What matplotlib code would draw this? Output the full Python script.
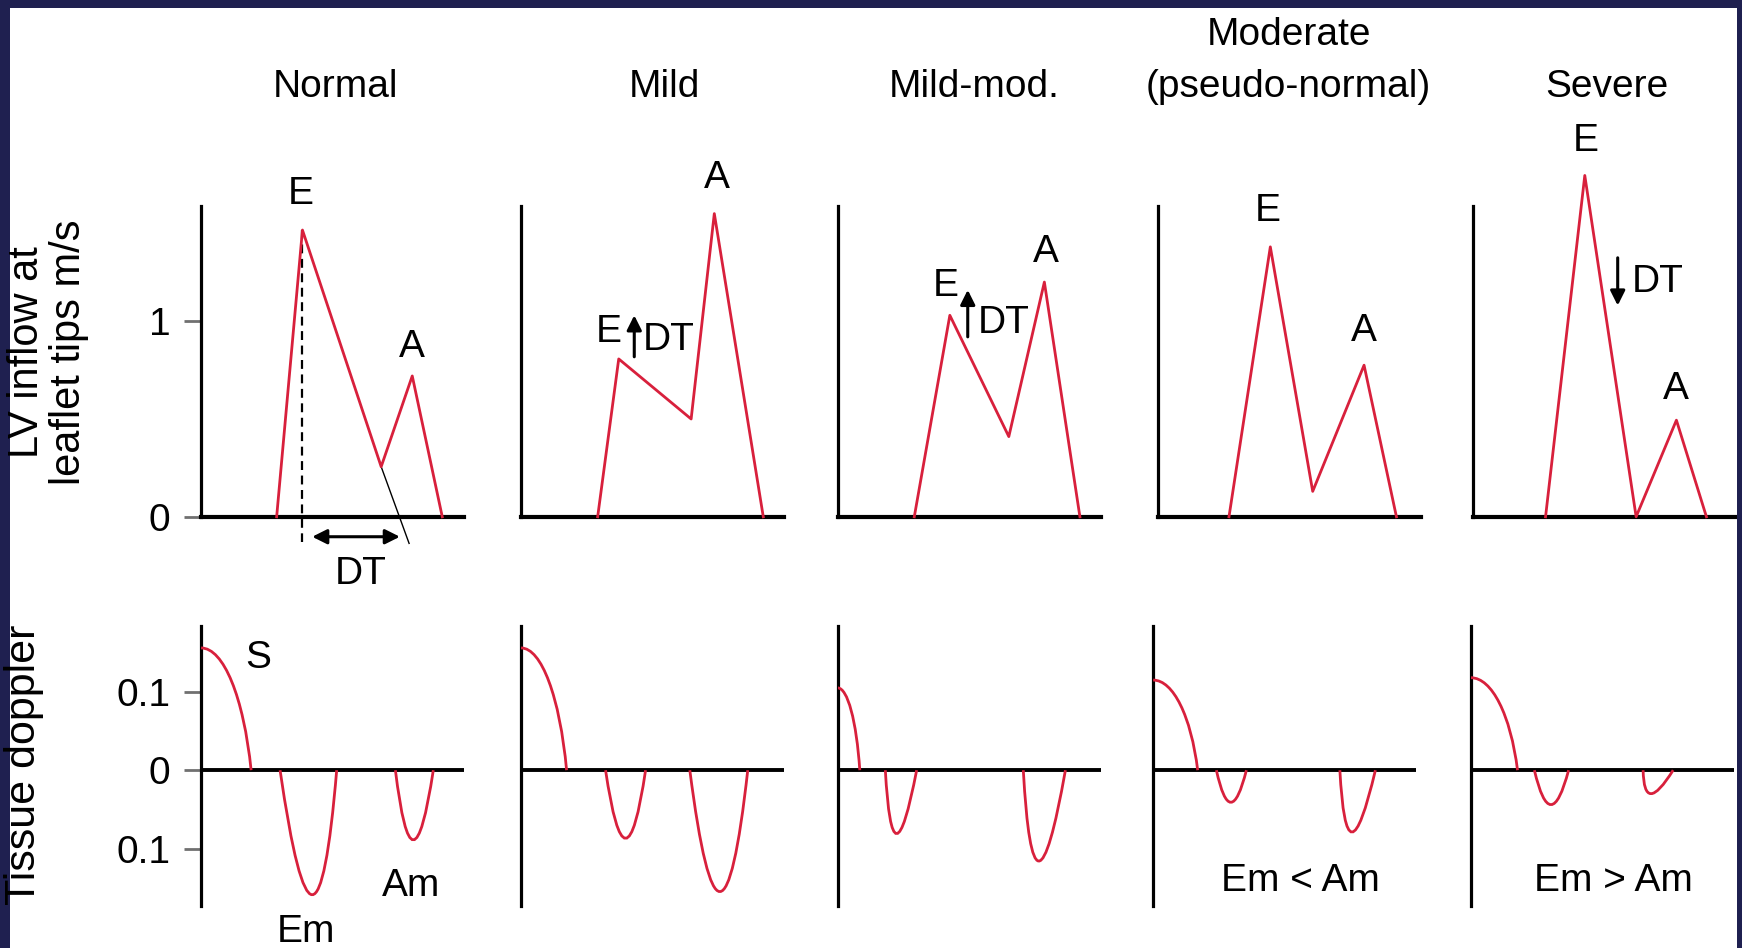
import matplotlib
matplotlib.use('Agg')
import matplotlib.pyplot as plt
from matplotlib.path import Path
from matplotlib.patches import PathPatch, Rectangle
from matplotlib.font_manager import findfont, FontProperties

# ── Data ──────────────────────────────────────────────────────────────────────
stages = ['Normal', 'Mild', 'Mild-mod.', 'Moderate\n(pseudo-normal)', 'Severe']

# LV inflow polyline: onset, E peak, E-A trough, A peak, end (time = fraction of panel)
inflow_t = [
    [0.287, 0.385, 0.684, 0.802, 0.916],
    [0.291, 0.371, 0.646, 0.734, 0.920],
    [0.291, 0.426, 0.650, 0.785, 0.920],
    [0.271, 0.428, 0.589, 0.784, 0.907],
    [0.275, 0.424, 0.619, 0.772, 0.886],
]
inflow_v = [
    [0.0, 1.466, 0.256, 0.720, 0.0],
    [0.0, 0.807, 0.500, 1.550, 0.0],
    [0.0, 1.030, 0.410, 1.200, 0.0],
    [0.0, 1.380, 0.130, 0.775, 0.0],
    [0.0, 1.745, 0.000, 0.494, 0.0],
]

# Tissue doppler: S wave (height at axis, zero crossing)
s_peak = [0.156, 0.156, 0.105, 0.115, 0.118]
s_end = [0.190, 0.173, 0.084, 0.169, 0.177]
# Em / Am lobes: (start, end, time of minimum, minimum)
em_lobe = [
    (0.300, 0.515, 0.422, -0.159),
    (0.321, 0.473, 0.397, -0.087),
    (0.181, 0.300, 0.224, -0.081),
    (0.240, 0.354, 0.295, -0.041),
    (0.241, 0.371, 0.304, -0.044),
]
am_lobe = [
    (0.738, 0.882, 0.806, -0.089),
    (0.641, 0.861, 0.755, -0.155),
    (0.705, 0.865, 0.764, -0.116),
    (0.709, 0.844, 0.755, -0.079),
    (0.654, 0.768, 0.684, -0.030),
]

inflow_ticks = [0, 1]
inflow_ticklabels = ['0', '1']
tdi_ticks = [-0.1, 0, 0.1]
tdi_ticklabels = ['0.1', '0', '0.1']

# ── Layout / style ────────────────────────────────────────────────────────────
RED = '#d8203c'
NAVY = '#1f2050'
W, H = 1568, 853          # reference layout units (pixels of the shown picture)
top_left = [181, 469, 754, 1042, 1326]
bot_left = [181, 469, 754, 1038, 1324]
PANEL_W = 237
title_x = [302, 598, 877, 1160, 1446]


def pick(fam, fallback):
    try:
        findfont(FontProperties(family=fam), fallback_to_default=False)
        return fam
    except ValueError:
        return fallback


NARROW = pick('Liberation Sans Narrow', 'Liberation Sans')
REG = pick('Liberation Sans', 'DejaVu Sans')
plt.rcParams['font.family'] = [NARROW, 'DejaVu Sans']
FS = 28


def lobe_path(x0, x1, xm, ym):
    xc = 2 * xm - 0.5 * (x0 + x1)
    return Path([(x0, 0), (xc, 2 * ym), (x1, 0)],
                [Path.MOVETO, Path.CURVE3, Path.CURVE3])


def s_path(s, xe):
    verts = [(0, s), (0.45 * xe, s), (0.85 * xe, 0.6 * s), (xe, 0)]
    return Path(verts, [Path.MOVETO, Path.CURVE4, Path.CURVE4, Path.CURVE4])


def arrow(ax, x0, y0, x1, y1, style='-|>'):
    ax.annotate('', xy=(x1, y1), xytext=(x0, y0), annotation_clip=False,
                arrowprops=dict(arrowstyle=style, lw=2.2, color='black',
                                mutation_scale=22, shrinkA=0, shrinkB=0))


fig = plt.figure(figsize=(17.42, 9.48), dpi=100)

top_axes, bot_axes = [], []
for i in range(5):
    ax = fig.add_axes([top_left[i] / W, 1 - 465 / H, PANEL_W / W, 280 / H])
    ax.set_xlim(0, 1)
    ax.set_ylim(0, 280 / 176)
    top_axes.append(ax)
    bx = fig.add_axes([bot_left[i] / W, 1 - 815 / H, PANEL_W / W, 252 / H])
    bx.set_xlim(0, 1)
    bx.set_ylim(-122 / 705, 130 / 705)
    bot_axes.append(bx)

for i, (ax, bx) in enumerate(zip(top_axes, bot_axes)):
    for a in (ax, bx):
        a.patch.set_visible(False)
        a.spines[['top', 'right']].set_visible(False)
        a.spines['left'].set_linewidth(2.3)
        a.set_xticks([])
        if i == 0:
            a.tick_params(axis='y', length=12, width=2, color='#707070',
                          pad=10, labelsize=FS)
        else:
            a.set_yticks([])
    ax.spines['bottom'].set_linewidth(3.0)
    bx.spines['bottom'].set_visible(False)
    bx.axhline(0, color='black', lw=2.8, zorder=1)
    if i == 0:
        ax.set_yticks(inflow_ticks)
        ax.set_yticklabels(inflow_ticklabels)
        bx.set_yticks(tdi_ticks)
        bx.set_yticklabels(tdi_ticklabels)

    # LV inflow
    ax.plot(inflow_t[i], inflow_v[i], color=RED, lw=2.0, clip_on=False, zorder=3)

    # tissue doppler
    for p in (s_path(s_peak[i], s_end[i]), lobe_path(*em_lobe[i]), lobe_path(*am_lobe[i])):
        bx.add_patch(PathPatch(p, fill=False, edgecolor=RED, lw=2.0, zorder=3))

    fig.text(title_x[i] / W, 1 - 87 / H, stages[i], ha='center', va='baseline',
             fontsize=FS, multialignment='center', linespacing=1.55)

txt = dict(fontsize=FS, ha='center', va='center')

# Normal: E, A, DT construction
a0 = top_axes[0]
a0.text(0.377, 1.648, 'E', **txt)
a0.text(0.802, 0.87, 'A', **txt)
a0.text(0.608, -0.295, 'DT', clip_on=False, **txt)
a0.plot([inflow_t[0][1]] * 2, [inflow_v[0][1], -0.13], color='black', lw=1.6,
        ls=(0, (4, 2.5)), clip_on=False, zorder=2)
a0.plot([inflow_t[0][2], 0.79], [inflow_v[0][2], -0.136], color='black', lw=1.0,
        clip_on=False, zorder=2)
arrow(a0, 0.422, -0.102, 0.755, -0.102, style='<|-|>')

# Mild
a1 = top_axes[1]
a1.text(0.333, 0.943, 'E', **txt)
arrow(a1, 0.43, 0.818, 0.43, 1.03)
a1.text(0.56, 0.905, 'DT', **txt)
a1.text(0.743, 1.73, 'A', **txt)

# Mild-mod.
a2 = top_axes[2]
a2.text(0.41, 1.18, 'E', **txt)
arrow(a2, 0.494, 0.92, 0.494, 1.16)
a2.text(0.63, 0.99, 'DT', **txt)
a2.text(0.789, 1.352, 'A', **txt)

# Moderate
a3 = top_axes[3]
a3.text(0.418, 1.5625, 'E', **txt)
a3.text(0.785, 0.949, 'A', **txt)

# Severe
a4 = top_axes[4]
a4.text(0.426, 1.92, 'E', clip_on=False, **txt)
arrow(a4, 0.549, 1.324, 0.549, 1.08)
a4.text(0.70, 1.199, 'DT', **txt)
a4.text(0.768, 0.653, 'A', **txt)

# tissue doppler labels
b0 = bot_axes[0]
b0.text(0.215, 0.143, 'S', **txt)
b0.text(0.40, -0.206, 'Em', clip_on=False, **txt)
b0.text(0.797, -0.148, 'Am', **txt)
bot_axes[3].text(0.561, -0.142, 'Em < Am', **txt)
bot_axes[4].text(0.54, -0.142, 'Em > Am', **txt)

# axis titles
fig.text(43 / W, 1 - 317 / H, 'LV inflow at\nleaflet tips m/s', rotation=90,
         ha='center', va='center', multialignment='center', linespacing=1.05,
         fontsize=30, family=[REG, 'DejaVu Sans'])
fig.text(22 / W, 1 - 688 / H, 'Tissue doppler', rotation=90, ha='center',
         va='center', fontsize=31, family=[REG, 'DejaVu Sans'])

# slide frame
fig.add_artist(Rectangle((0, 0), 10 / 1742, 1, transform=fig.transFigure,
                         color=NAVY, lw=0))
fig.add_artist(Rectangle((0, 1 - 8 / 948), 1, 8 / 948, transform=fig.transFigure,
                         color=NAVY, lw=0))
fig.add_artist(Rectangle((1 - 5 / 1742, 0), 5 / 1742, 1, transform=fig.transFigure,
                         color=NAVY, lw=0))

fig.savefig('out.png', dpi=100, facecolor='white')
